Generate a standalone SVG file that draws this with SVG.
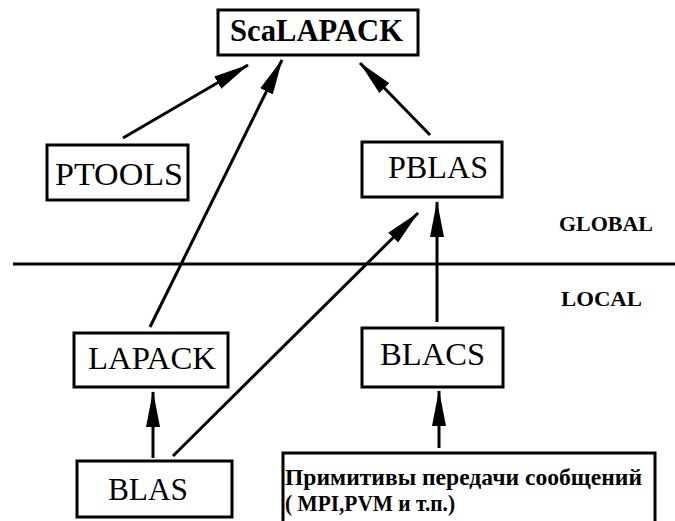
<svg xmlns="http://www.w3.org/2000/svg" width="675" height="521" viewBox="0 0 675 521">
<style>
.box{fill:#fff;stroke:#000;stroke-width:3}
text{font-family:'Liberation Serif','DejaVu Serif','Times New Roman',serif;fill:#000}
.lbl{font-size:32px}
.b{font-weight:bold}
.sm{font-weight:bold;font-size:21px}
.msg{font-weight:bold;font-size:23px}
.con{stroke:#000;stroke-width:3;fill:none}
</style>
<defs>
<marker id="ah" markerUnits="userSpaceOnUse" viewBox="0 0 36 16" markerWidth="36" markerHeight="16" refX="35" refY="8" orient="auto">
<path d="M0,1 L36,8 L0,15 Z" fill="#000"/>
</marker>
</defs>
<rect width="675" height="521" fill="#fff"/>
<g id="connectors">
<line class="con" x1="13" y1="264" x2="675" y2="264"/>
<line class="con" x1="123" y1="138" x2="248" y2="65" marker-end="url(#ah)"/>
<line class="con" x1="150" y1="327" x2="282" y2="60" marker-end="url(#ah)"/>
<line class="con" x1="430" y1="135" x2="360" y2="63" marker-end="url(#ah)"/>
<line class="con" x1="173" y1="456" x2="418" y2="213" marker-end="url(#ah)"/>
<line class="con" x1="437" y1="322" x2="437" y2="202" marker-end="url(#ah)"/>
<line class="con" x1="153" y1="458" x2="153" y2="392" marker-end="url(#ah)"/>
<line class="con" x1="439" y1="448" x2="439" y2="391" marker-end="url(#ah)"/>
</g>
<g id="scalapack">
<rect class="box" x="218" y="10" width="200" height="45"/>
<text class="lbl b" x="230" y="41" font-size="29" textLength="173" lengthAdjust="spacingAndGlyphs">ScaLAPACK</text>
</g>
<g id="ptools">
<rect class="box" x="47" y="145" width="141" height="55"/>
<text class="lbl" x="55" y="185" textLength="128" lengthAdjust="spacingAndGlyphs">PTOOLS</text>
</g>
<g id="pblas">
<rect class="box" x="362" y="142" width="140" height="55"/>
<text class="lbl" x="388" y="178" textLength="100" lengthAdjust="spacingAndGlyphs">PBLAS</text>
</g>
<g id="global-label">
<text class="sm" x="559" y="231" textLength="94" lengthAdjust="spacingAndGlyphs">GLOBAL</text>
</g>
<g id="local-label">
<text class="sm" x="561" y="306" textLength="81" lengthAdjust="spacingAndGlyphs">LOCAL</text>
</g>
<g id="lapack">
<rect class="box" x="74" y="333" width="154" height="54"/>
<text class="lbl" x="88" y="369" textLength="128" lengthAdjust="spacingAndGlyphs">LAPACK</text>
</g>
<g id="blacs">
<rect class="box" x="362" y="328" width="141" height="59"/>
<text class="lbl" x="380" y="365" textLength="105" lengthAdjust="spacingAndGlyphs">BLACS</text>
</g>
<g id="blas">
<rect class="box" x="77" y="461" width="155" height="56"/>
<text class="lbl" x="108" y="500" textLength="80" lengthAdjust="spacingAndGlyphs">BLAS</text>
</g>
<g id="messaging">
<rect class="box" x="283" y="453" width="372" height="80"/>
<text class="msg" x="285" y="485" textLength="357" lengthAdjust="spacingAndGlyphs">Примитивы передачи сообщений</text>
<text class="msg" x="285" y="511" textLength="170" lengthAdjust="spacingAndGlyphs">( MPI,PVM и т.п.)</text>
</g>
</svg>
